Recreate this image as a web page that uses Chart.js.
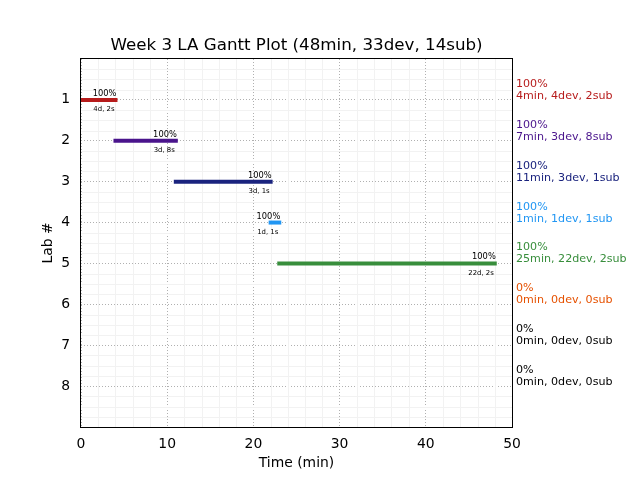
<!DOCTYPE html>
<html>
<head>
<meta charset="utf-8">
<script src="https://cdn.jsdelivr.net/npm/chart.js@4"></script>
<style>
  html, body { margin: 0; padding: 0; background: #fff; }
  #wrap { width: 640px; height: 480px; }
</style>
</head>
<body>
<div id="wrap"><canvas id="graphique" width="640" height="480"></canvas></div>
<script>
// donnees du gantt
const labs = [1, 2, 3, 4, 5, 6, 7, 8];
const starts = [0, 4, 11, 22, 23];
const ends = [4, 11, 22, 23, 48];
const percents = [100, 100, 100, 100, 100, 0, 0, 0];
const minutes = [4, 7, 11, 1, 25, 0, 0, 0];
const devs = [4, 3, 3, 1, 22, 0, 0, 0];
const subs = [2, 8, 1, 1, 2, 0, 0, 0];
const labColors = ['#b71c1c', '#4a148c', '#1a237e', '#2196f3', '#388e3c', '#e65100', '#000000', '#000000'];
const xTicks = [0, 10, 20, 30, 40, 50];
const titre = 'Week 3 LA Gantt Plot (48min, 33dev, 14sub)';

const FONT = "'DejaVu Sans', sans-serif";

// un dataset par lab (segment start -> end)
let datasets = [];
starts.forEach((s, i) => {
    datasets.push({
        data: [{x: s, y: labs[i]}, {x: ends[i], y: labs[i]}],
        borderColor: labColors[i],
        borderWidth: 4,
        borderCapStyle: 'square',
        pointRadius: 0,
        showLine: true,
        fill: false
    });
});

// grille mineure + cadre + textes
const minorGrid = {
    id: 'minorGrid',
    beforeDatasetsDraw(chart) {
        const ctx = chart.ctx;
        const a = chart.chartArea;
        const x = chart.scales.x, y = chart.scales.y;
        ctx.save();
        ctx.strokeStyle = '#f2f2f2';
        ctx.lineWidth = 1;
        for (let v = 0; v <= 50; v += 2) {
            if (v % 10 === 0) continue;
            const px = Math.round(x.getPixelForValue(v)) + 0.5;
            ctx.beginPath(); ctx.moveTo(px, a.top); ctx.lineTo(px, a.bottom); ctx.stroke();
        }
        for (let v = 0; v <= 9; v += 0.25) {
            if (Number.isInteger(v)) continue;
            const py = Math.round(y.getPixelForValue(v)) + 0.5;
            ctx.beginPath(); ctx.moveTo(a.left, py); ctx.lineTo(a.right, py); ctx.stroke();
        }
        ctx.restore();
    },
    afterDraw(chart) {
        const ctx = chart.ctx;
        const a = chart.chartArea;
        const x = chart.scales.x, y = chart.scales.y;
        ctx.save();
        ctx.strokeStyle = '#000';
        ctx.lineWidth = 1;
        ctx.strokeRect(Math.round(a.left) - 0.5, Math.round(a.top) - 0.5, Math.round(a.right - a.left) + 1, Math.round(a.bottom - a.top) + 1);

        // titre centre sur la zone du graphique
        ctx.fillStyle = '#000';
        ctx.textAlign = 'center';
        ctx.textBaseline = 'middle';
        ctx.font = '16.7px ' + FONT;
        ctx.fillText(titre, (a.left + a.right) / 2, 45.5);

        // etiquettes au bout des barres
        ctx.textAlign = 'right';
        starts.forEach((s, i) => {
            const px = x.getPixelForValue(ends[i]) + 1;
            const py = y.getPixelForValue(labs[i]);
            ctx.font = '8.3px ' + FONT;
            ctx.textBaseline = 'alphabetic';
            ctx.fillText(percents[i] + '%', px, py - 4);
            ctx.font = '6.9px ' + FONT;
            ctx.textBaseline = 'top';
            ctx.fillText(devs[i] + 'd, ' + subs[i] + 's', px - 2, py + 6);
        });

        // texte a droite
        ctx.textAlign = 'left';
        ctx.textBaseline = 'alphabetic';
        ctx.font = '11.1px ' + FONT;
        labs.forEach((lab, i) => {
            const py = y.getPixelForValue(lab);
            ctx.fillStyle = labColors[i];
            ctx.fillText(percents[i] + '%', a.right + 4, py - 13);
            ctx.fillText(minutes[i] + 'min, ' + devs[i] + 'dev, ' + subs[i] + 'sub', a.right + 4, py - 1);
        });
        ctx.restore();
    }
};

const graph = document.getElementById('graphique');

new Chart(graph, {
    type: 'scatter',
    data: { datasets: datasets },
    plugins: [minorGrid],
    options: {
        responsive: false,
        animation: false,
        devicePixelRatio: 1,
        layout: { padding: { left: 0, right: 128, top: 59, bottom: 0 } },
        plugins: {
            legend: { display: false },
            tooltip: { enabled: false },
            title: { display: false }
        },
        scales: {
            x: {
                type: 'linear',
                min: 0,
                max: 50,
                afterFit: scale => { scale.height = 53; },
                afterBuildTicks: scale => { scale.ticks = xTicks.map(v => ({value: v})); },
                grid: { color: '#b0b0b0', drawTicks: false, lineWidth: 1 },
                border: { display: false, dash: [1, 2] },
                ticks: { color: '#000', font: { family: FONT, size: 13.9 }, padding: 9 },
                title: { display: true, text: 'Time (min)', color: '#000', font: { family: FONT, size: 13.9 }, padding: { top: 4, bottom: 8 } }
            },
            y: {
                type: 'linear',
                min: 0,
                max: 9,
                reverse: true,
                afterFit: scale => { scale.width = 81; },
                afterBuildTicks: scale => { scale.ticks = labs.map(v => ({value: v})); },
                grid: { color: '#b0b0b0', drawTicks: false, lineWidth: 1 },
                border: { display: false, dash: [1, 2] },
                ticks: { color: '#000', font: { family: FONT, size: 13.9 }, padding: 11 },
                title: { display: true, text: 'Lab #', color: '#000', font: { family: FONT, size: 13.9 }, padding: { top: 40, bottom: 0 } }
            }
        }
    }
});
</script>
</body>
</html>
